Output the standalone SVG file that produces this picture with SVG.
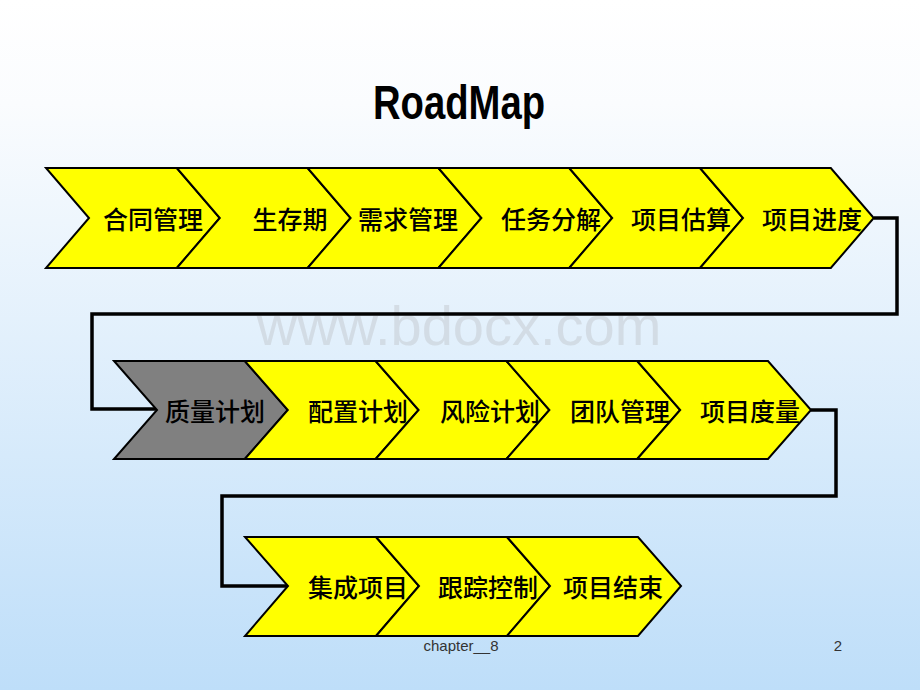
<svg xmlns="http://www.w3.org/2000/svg" width="920" height="690" viewBox="0 0 920 690">
  <defs>
    <linearGradient id="bg" x1="0" y1="0" x2="0" y2="1">
      <stop offset="0" stop-color="#FFFFFF"/>
      <stop offset="0.15" stop-color="#FAFCFE"/>
      <stop offset="1" stop-color="#BEDEF9"/>
    </linearGradient>
    <style>
      .chev { fill: #FFFF00; stroke: #000; stroke-width: 2; stroke-linejoin: miter; }
      .chev.gray { fill: #808080; }
      .lbl { font-family: "Noto Sans CJK SC", "Noto Sans CJK TC", sans-serif; font-size: 25px; font-weight: 500; fill: #000; text-anchor: middle; }
      .conn { fill: none; stroke: #000; stroke-width: 3.5; stroke-linejoin: miter; }
      .foot { font-family: "Liberation Sans", Arial, sans-serif; font-size: 15px; fill: #333; }
    </style>
  </defs>
  <rect x="0" y="0" width="920" height="690" fill="url(#bg)"/>
  <text x="459" y="345" font-family="Liberation Sans, Arial, sans-serif" font-size="56" fill="#C8CED6" fill-opacity="0.6" text-anchor="middle">www.bdocx.com</text>
  <text x="459" y="119" font-family="Liberation Sans, Arial, sans-serif" font-weight="bold" font-size="49" text-anchor="middle" textLength="172" lengthAdjust="spacingAndGlyphs" fill="#000">RoadMap</text>

  <g id="connectors">
    <path class="conn" d="M 874,218 H 897 V 314 H 92 V 409 H 157"/>
    <path class="conn" d="M 811,410 H 836 V 496 H 222 V 586 H 288"/>
  </g>

  <g id="n1"><path class="chev" d="M46,168 H176.8 L219.8,218 L176.8,268 H46 L89,218 Z"/><text class="lbl" x="153" y="229">合同管理</text></g>
  <g id="n2"><path class="chev" d="M176.8,168 H307.6 L350.6,218 L307.6,268 H176.8 L219.8,218 Z"/><text class="lbl" x="290" y="229">生存期</text></g>
  <g id="n3"><path class="chev" d="M307.6,168 H438.4 L481.4,218 L438.4,268 H307.6 L350.6,218 Z"/><text class="lbl" x="408" y="229">需求管理</text></g>
  <g id="n4"><path class="chev" d="M438.4,168 H569.2 L612.2,218 L569.2,268 H438.4 L481.4,218 Z"/><text class="lbl" x="551" y="229">任务分解</text></g>
  <g id="n5"><path class="chev" d="M569.2,168 H700 L743,218 L700,268 H569.2 L612.2,218 Z"/><text class="lbl" x="681" y="229">项目估算</text></g>
  <g id="n6"><path class="chev" d="M700,168 H830.8 L873.8,218 L830.8,268 H700 L743,218 Z"/><text class="lbl" x="812" y="229">项目进度</text></g>

  <g id="n7"><path class="chev gray" d="M114,361 H244.8 L287.8,410 L244.8,459 H114 L157,410 Z"/><text class="lbl" x="215" y="421">质量计划</text></g>
  <g id="n8"><path class="chev" d="M244.8,361 H375.6 L418.6,410 L375.6,459 H244.8 L287.8,410 Z"/><text class="lbl" x="358" y="421">配置计划</text></g>
  <g id="n9"><path class="chev" d="M375.6,361 H506.4 L549.4,410 L506.4,459 H375.6 L418.6,410 Z"/><text class="lbl" x="490" y="421">风险计划</text></g>
  <g id="n10"><path class="chev" d="M506.4,361 H637.2 L680.2,410 L637.2,459 H506.4 L549.4,410 Z"/><text class="lbl" x="620" y="421">团队管理</text></g>
  <g id="n11"><path class="chev" d="M637.2,361 H768 L811,410 L768,459 H637.2 L680.2,410 Z"/><text class="lbl" x="750" y="421">项目度量</text></g>

  <g id="n12"><path class="chev" d="M245,537 H376 L419,586 L376,636 H245 L288,586 Z"/><text class="lbl" x="358" y="597">集成项目</text></g>
  <g id="n13"><path class="chev" d="M376,537 H507 L550,586 L507,636 H376 L419,586 Z"/><text class="lbl" x="488" y="597">跟踪控制</text></g>
  <g id="n14"><path class="chev" d="M507,537 H638 L681,586 L638,636 H507 L550,586 Z"/><text class="lbl" x="613" y="597">项目结束</text></g>

  <text class="foot" x="461" y="651" text-anchor="middle">chapter__8</text>
  <text class="foot" x="838" y="651" text-anchor="middle">2</text>
</svg>
